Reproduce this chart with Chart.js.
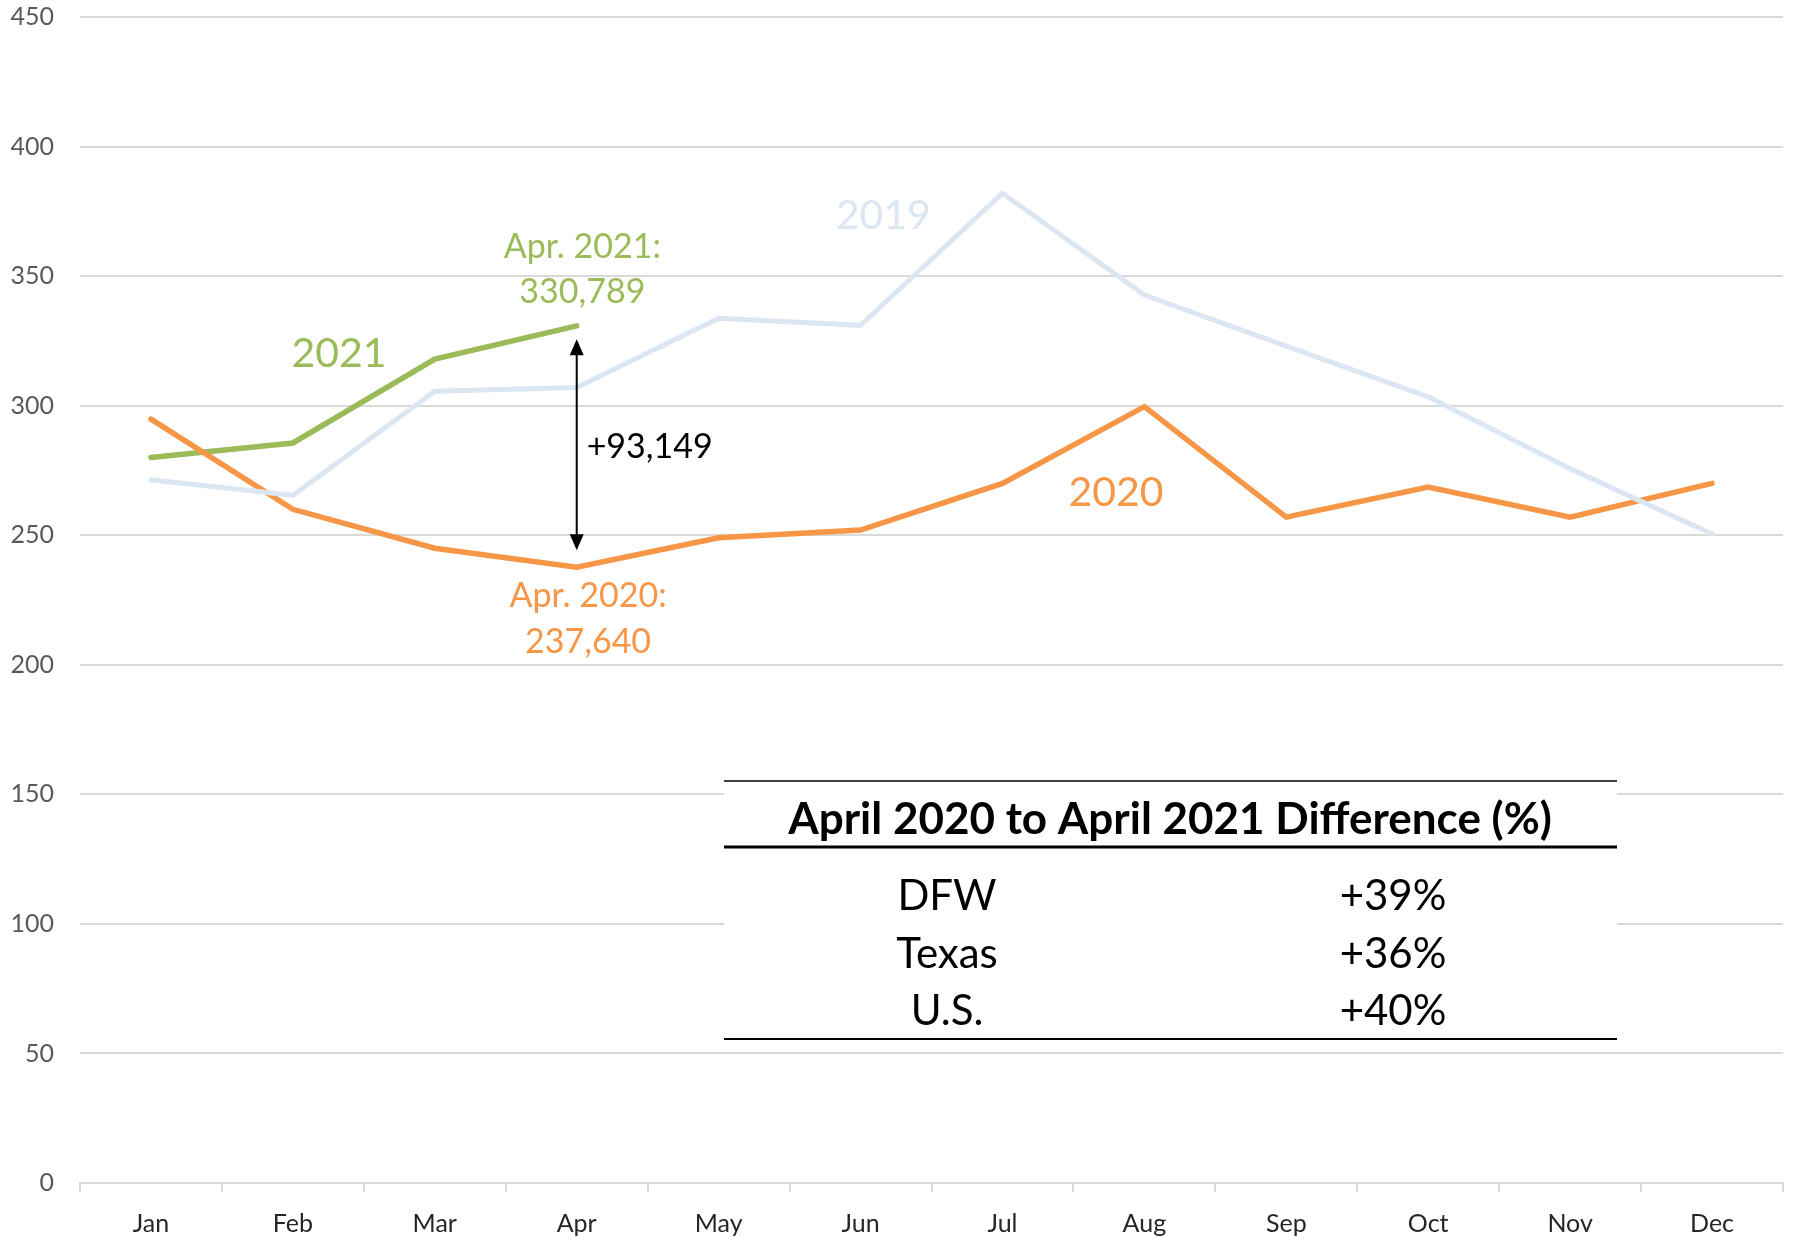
<!DOCTYPE html>
<html>
<head>
<meta charset="utf-8">
<script src="https://cdn.jsdelivr.net/npm/chart.js@4"></script>
<style>
  html, body { margin: 0; padding: 0; background: #fff; }
  #wrap { width: 1794px; height: 1237px; position: relative; }
</style>
</head>
<body>
<div id="wrap"><canvas id="salesChart"></canvas></div>
<script>
// Data (thousands)
const months = ['Jan', 'Feb', 'Mar', 'Apr', 'May', 'Jun', 'Jul', 'Aug', 'Sep', 'Oct', 'Nov', 'Dec'];
const values2019 = [271.4, 265.4, 305.6, 307, 333.7, 331, 382, 342.7, 323, 303.4, 275.7, 250.5];
const values2020 = [294.8, 260, 245, 237.64, 249, 252, 270, 299.6, 257, 268.6, 257, 270];
const values2021 = [280, 285.6, 318, 330.789];
const yTicks = [0, 50, 100, 150, 200, 250, 300, 350, 400, 450];

const tableTitle = 'April 2020 to April 2021 Difference (%)';
const tableRegions = ['DFW', 'Texas', 'U.S.'];
const tableDiffs = ['+39%', '+36%', '+40%'];

const FONT = 'Lato, "Noto Sans", sans-serif';
const ORANGE = '#f79646';
const GREEN = '#9bbb59';
const PALE = '#dce6f2';

// text notes placed in data units (x = month index, y = value)
const notes = [
    { text: '2021', x: 1.325, y: 320.2, color: GREEN, size: 41 },
    { text: '2019', x: 5.16, y: 373.4, color: PALE, size: 41 },
    { text: '2020', x: 6.80, y: 266.3, color: ORANGE, size: 41 },
    { text: 'Apr. 2021:', x: 3.04, y: 361.4, color: GREEN, size: 34 },
    { text: '330,789', x: 3.04, y: 343.8, color: GREEN, size: 34 },
    { text: '+93,149', x: 3.07, y: 284.0, color: '#000', size: 34, align: 'left' },
    { text: 'Apr. 2020:', x: 3.08, y: 226.5, color: ORANGE, size: 34 },
    { text: '237,640', x: 3.08, y: 208.8, color: ORANGE, size: 34 }
];

const overlayPlugin = {
    id: 'overlay',
    afterDraw(chart) {
        const ctx = chart.ctx;
        const xs = chart.scales.x;
        const ys = chart.scales.y;

        // notes
        notes.forEach(n => {
            ctx.save();
            ctx.font = n.size + 'px ' + FONT;
            ctx.fillStyle = n.color;
            ctx.textAlign = n.align || 'center';
            ctx.textBaseline = 'middle';
            ctx.fillText(n.text, xs.getPixelForValue(n.x), ys.getPixelForValue(n.y));
            ctx.restore();
        });

        // double-headed arrow at April
        const ax = xs.getPixelForValue(3);
        const top = ys.getPixelForValue(325.6);
        const bot = ys.getPixelForValue(244.2);
        const head = 16, half = 7;
        ctx.save();
        ctx.strokeStyle = '#000';
        ctx.fillStyle = '#000';
        ctx.lineWidth = 2;
        ctx.beginPath();
        ctx.moveTo(ax, top + head - 2);
        ctx.lineTo(ax, bot - head + 2);
        ctx.stroke();
        ctx.beginPath();
        ctx.moveTo(ax, top);
        ctx.lineTo(ax - half, top + head);
        ctx.lineTo(ax + half, top + head);
        ctx.closePath();
        ctx.fill();
        ctx.beginPath();
        ctx.moveTo(ax, bot);
        ctx.lineTo(ax - half, bot - head);
        ctx.lineTo(ax + half, bot - head);
        ctx.closePath();
        ctx.fill();
        ctx.restore();

        // summary table
        const left = 724, right = 1617;
        const yTop = 781, yMid = 847, yBot = 1039;
        ctx.save();
        ctx.fillStyle = '#fff';
        ctx.fillRect(left, yTop, right - left, yBot - yTop);
        ctx.strokeStyle = '#000';
        ctx.lineWidth = 1.5;
        ctx.beginPath(); ctx.moveTo(left, yTop); ctx.lineTo(right, yTop); ctx.stroke();
        ctx.lineWidth = 3;
        ctx.beginPath(); ctx.moveTo(left, yMid); ctx.lineTo(right, yMid); ctx.stroke();
        ctx.lineWidth = 2;
        ctx.beginPath(); ctx.moveTo(left, yBot); ctx.lineTo(right, yBot); ctx.stroke();

        ctx.fillStyle = '#000';
        ctx.textAlign = 'center';
        ctx.textBaseline = 'middle';
        ctx.font = 'bold 44px ' + FONT;
        ctx.fillText(tableTitle, 1170, 820);
        ctx.font = '42px ' + FONT;
        const rowY = [896, 954, 1011];
        tableRegions.forEach((r, i) => {
            ctx.fillText(r, 947, rowY[i]);
            ctx.fillText(tableDiffs[i], 1393, rowY[i]);
        });
        ctx.restore();
    }
};

const ctx = document.getElementById('salesChart').getContext('2d');
new Chart(ctx, {
    type: 'line',
    data: {
        labels: months,
        datasets: [
            { label: '2019', data: values2019, borderColor: PALE, borderWidth: 5 },
            { label: '2020', data: values2020, borderColor: ORANGE, borderWidth: 5.5 },
            { label: '2021', data: values2021, borderColor: GREEN, borderWidth: 5.5 }
        ]
    },
    options: {
        responsive: true,
        maintainAspectRatio: false,
        animation: false,
        events: [],
        elements: {
            point: { radius: 0 },
            line: { tension: 0, borderCapStyle: 'round', borderJoinStyle: 'miter' }
        },
        layout: { padding: { top: 0, right: 11, left: 0, bottom: 0 } },
        plugins: {
            legend: { display: false },
            tooltip: { enabled: false }
        },
        scales: {
            x: {
                offset: true,
                grid: {
                    offset: true,
                    drawOnChartArea: false,
                    drawTicks: true,
                    tickLength: 9,
                    color: '#d9d9d9',
                    lineWidth: 2
                },
                border: { display: true, color: '#d9d9d9', width: 2 },
                ticks: {
                    color: '#262626',
                    font: { family: FONT, size: 25 },
                    padding: 17,
                    maxRotation: 0
                },
                afterFit(scale) { scale.height = 54; }
            },
            y: {
                min: 0,
                max: 450,
                afterBuildTicks(scale) { scale.ticks = yTicks.map(v => ({ value: v })); },
                grid: { color: '#d9d9d9', lineWidth: 2, drawTicks: false },
                border: { display: false },
                ticks: {
                    color: '#595959',
                    font: { family: FONT, size: 25 },
                    padding: 26
                },
                afterFit(scale) {
                    scale.width = 80;
                    scale.paddingTop = 17;
                    scale.paddingBottom = 0;
                }
            }
        }
    },
    plugins: [overlayPlugin]
});
</script>
</body>
</html>
